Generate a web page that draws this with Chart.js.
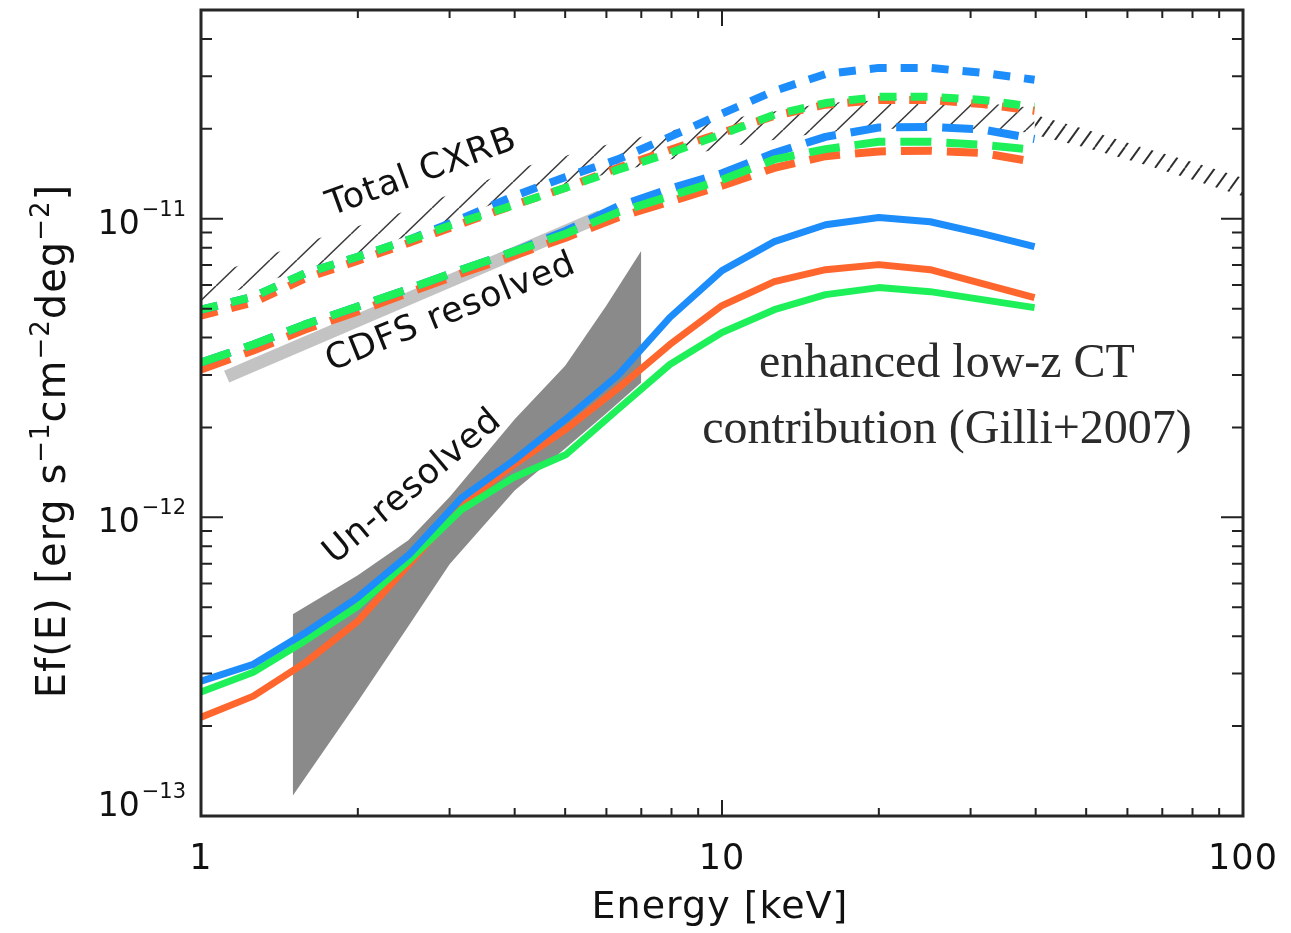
<!DOCTYPE html>
<html>
<head>
<meta charset="utf-8">
<script src="https://cdn.jsdelivr.net/npm/chart.js@4.4.1/dist/chart.umd.min.js"></script>
<style>
  html, body { margin: 0; padding: 0; background: #ffffff; }
  #wrap { width: 1291px; height: 933px; }
</style>
</head>
<body>
<div id="wrap"><canvas id="c" width="1291" height="933"></canvas></div>
<script>
// ---- energy grid of the model curves (keV) ----
const energy = [1, 1.26, 1.58, 2.0, 2.51, 3.16, 3.98, 5.01, 6.31, 7.94, 10.0, 12.6, 15.8, 20.0, 25.1, 31.6, 39.8];

// ---- model totals (short dashes), erg s^-1 cm^-2 deg^-2 ----
const totalBlue   = [4.96e-12, 5.48e-12, 6.55e-12, 7.46e-12, 8.51e-12, 1.00e-11, 1.19e-11, 1.38e-11, 1.58e-11, 1.88e-11, 2.25e-11, 2.68e-11, 3.05e-11, 3.20e-11, 3.20e-11, 3.08e-11, 2.92e-11];
const totalGreen  = [4.96e-12, 5.48e-12, 6.55e-12, 7.46e-12, 8.51e-12, 9.77e-12, 1.11e-11, 1.27e-11, 1.46e-11, 1.66e-11, 1.92e-11, 2.23e-11, 2.44e-11, 2.56e-11, 2.56e-11, 2.50e-11, 2.37e-11];
const totalOrange = [4.74e-12, 5.24e-12, 6.30e-12, 7.24e-12, 8.31e-12, 9.62e-12, 1.11e-11, 1.27e-11, 1.48e-11, 1.70e-11, 1.94e-11, 2.21e-11, 2.41e-11, 2.50e-11, 2.50e-11, 2.42e-11, 2.30e-11];

// ---- resolved part (long dashes) ----
const resolvedBlue   = [3.30e-12, 3.79e-12, 4.42e-12, 5.08e-12, 5.83e-12, 6.75e-12, 7.76e-12, 9.10e-12, 1.10e-11, 1.26e-11, 1.42e-11, 1.66e-11, 1.88e-11, 2.02e-11, 2.03e-11, 1.99e-11, 1.85e-11];
const resolvedGreen  = [3.30e-12, 3.79e-12, 4.42e-12, 5.08e-12, 5.83e-12, 6.75e-12, 7.76e-12, 8.91e-12, 1.05e-11, 1.19e-11, 1.35e-11, 1.58e-11, 1.71e-11, 1.81e-11, 1.81e-11, 1.77e-11, 1.70e-11];
const resolvedOrange = [3.13e-12, 3.62e-12, 4.25e-12, 4.89e-12, 5.66e-12, 6.55e-12, 7.52e-12, 8.64e-12, 1.01e-11, 1.14e-11, 1.29e-11, 1.48e-11, 1.62e-11, 1.68e-11, 1.69e-11, 1.66e-11, 1.55e-11];

// ---- un-resolved part (solid) ----
const unresolvedBlue   = [2.83e-13, 3.22e-13, 4.09e-13, 5.40e-13, 7.52e-13, 1.16e-12, 1.55e-12, 2.13e-12, 2.99e-12, 4.67e-12, 6.70e-12, 8.38e-12, 9.55e-12, 1.01e-11, 9.77e-12, 8.91e-12, 8.06e-12];
const unresolvedGreen  = [2.60e-13, 3.03e-13, 3.85e-13, 5.04e-13, 7.18e-13, 1.06e-12, 1.36e-12, 1.62e-12, 2.30e-12, 3.25e-12, 4.16e-12, 4.96e-12, 5.57e-12, 5.88e-12, 5.70e-12, 5.36e-12, 5.04e-12];
const unresolvedOrange = [2.14e-13, 2.52e-13, 3.25e-13, 4.49e-13, 6.97e-13, 1.10e-12, 1.50e-12, 1.97e-12, 2.70e-12, 3.79e-12, 5.12e-12, 6.16e-12, 6.75e-12, 7.02e-12, 6.75e-12, 6.06e-12, 5.44e-12];

// ---- total CXRB band (two hatched pieces) ----
const cxrbEnergy = [1, 1.58, 2.51, 3.98, 6.31, 10.0, 15.8, 25.1, 39.8];
const cxrbUpper  = [6.30e-12, 8.31e-12, 1.07e-11, 1.46e-11, 1.81e-11, 2.14e-11, 2.44e-11, 2.54e-11, 2.35e-11];
const cxrbLower  = [5.28e-12, 6.75e-12, 8.77e-12, 1.19e-11, 1.44e-11, 1.73e-11, 1.95e-11, 2.03e-11, 1.94e-11];
const cxrbHardEnergy = [39.8, 50, 63, 80, 100];
const cxrbHardUpper  = [2.23e-11, 1.99e-11, 1.75e-11, 1.55e-11, 1.37e-11];
const cxrbHardLower  = [1.91e-11, 1.73e-11, 1.54e-11, 1.35e-11, 1.19e-11];

// ---- CDFS resolved fraction (light grey bar) ----
const cdfsEnergy = [1.12, 5.85];
const cdfsFlux   = [2.96e-12, 1.02e-11];

// ---- un-resolved background region (dark grey) ----
const unresEnergy = [1.5, 2, 2.5, 3, 4, 5, 6, 7];
const unresUpper  = [4.74e-13, 6.40e-13, 8.38e-13, 1.17e-12, 2.13e-12, 3.22e-12, 5.12e-12, 7.82e-12];
const unresLower  = [1.17e-13, 2.42e-13, 4.32e-13, 6.97e-13, 1.23e-12, 1.70e-12, 2.23e-12, 2.83e-12];

// ---- axes ----
const xRange = [1, 100];
const yRange = [1e-13, 5e-11];
const xTickLabels = [1, 10, 100];
const yTickExponents = [-13, -12, -11];

const BLUE = '#1c8dfa', GREEN = '#1ef05a', ORANGE = '#ff662e';
const SHORT_DASH = [17, 14], LONG_DASH = [31, 15];

const pts = (xs, ys) => xs.map((x, i) => ({ x, y: ys[i] }));

function curve(data, color, width, dash, order) {
  return {
    data, borderColor: color, borderWidth: width, borderDash: dash,
    borderCapStyle: 'butt', borderJoinStyle: 'round',
    pointRadius: 0, tension: 0, fill: false, order
  };
}
function edge(data, fill, bg, order) {
  return {
    data, borderColor: 'rgba(0,0,0,0)', borderWidth: 0, pointRadius: 0,
    tension: 0, fill, backgroundColor: bg, order
  };
}

// diagonal hatching for the CXRB band
function hatch(w, h, color, lw) {
  const c = document.createElement('canvas');
  c.width = w; c.height = h;
  const g = c.getContext('2d');
  g.strokeStyle = color; g.lineWidth = lw;
  for (let k = -1; k <= 1; k++) {
    g.beginPath();
    g.moveTo(k * w, h);
    g.lineTo(k * w + w, 0);
    g.stroke();
  }
  return g.createPattern(c, 'repeat');
}
const hatchWide = hatch(27, 26, '#3a3a3a', 1.5);
const hatchDense = hatch(15, 21, '#2e2e2e', 1.9);

const datasets = [
  curve(pts(energy, unresolvedBlue), BLUE, 7, [], 1),
  curve(pts(energy, unresolvedGreen), GREEN, 7, [], 2),
  curve(pts(energy, unresolvedOrange), ORANGE, 7, [], 3),
  curve(pts(energy, totalGreen), GREEN, 8, SHORT_DASH, 4),
  curve(pts(energy, resolvedGreen), GREEN, 8, LONG_DASH, 4),
  curve(pts(energy, totalBlue), BLUE, 8, SHORT_DASH, 5),
  curve(pts(energy, resolvedBlue), BLUE, 8, LONG_DASH, 5),
  curve(pts(energy, totalOrange), ORANGE, 8, SHORT_DASH, 6),
  curve(pts(energy, resolvedOrange), ORANGE, 8, LONG_DASH, 6),
  curve(pts(cdfsEnergy, cdfsFlux), '#c3c3c3', 13, [], 10),
  edge(pts(cxrbEnergy, cxrbUpper), '+1', hatchWide, 20),
  edge(pts(cxrbEnergy, cxrbLower), false, 'rgba(0,0,0,0)', 20),
  edge(pts(cxrbHardEnergy, cxrbHardUpper), '+1', hatchDense, 20),
  edge(pts(cxrbHardEnergy, cxrbHardLower), false, 'rgba(0,0,0,0)', 20),
  edge(pts(unresEnergy, unresUpper), '+1', '#8a8a8a', 20),
  edge(pts(unresEnergy, unresLower), false, 'rgba(0,0,0,0)', 20)
];

function logTicks(min, max) {
  const out = [];
  for (let e = Math.floor(Math.log10(min) + 1e-9); Math.pow(10, e) <= max * 1.0001; e++) {
    for (let m = 1; m <= 9; m++) {
      const v = m * Math.pow(10, e);
      if (v >= min * 0.9999 && v <= max * 1.0001) out.push({ v, major: m === 1 });
    }
  }
  return out;
}

const SANS = '"DejaVu Sans", "Liberation Sans", sans-serif';

function rotatedText(ctx, text, cx, cy, deg, size) {
  ctx.save();
  ctx.translate(cx, cy);
  ctx.rotate(deg * Math.PI / 180);
  ctx.font = size + 'px ' + SANS;
  ctx.letterSpacing = '1px';
  ctx.textAlign = 'center';
  ctx.textBaseline = 'middle';
  ctx.fillStyle = '#111';
  ctx.fillText(text, 0, 0);
  ctx.restore();
}

const decorations = {
  id: 'decorations',
  afterDatasetsDraw(chart) {
    const { ctx, chartArea: a, scales: { x, y } } = chart;
    ctx.save();

    // inward tick marks on all four sides
    ctx.strokeStyle = '#222';
    ctx.lineWidth = 2;
    ctx.beginPath();
    for (const t of logTicks(xRange[0], xRange[1])) {
      const px = x.getPixelForValue(t.v);
      const len = t.major ? 16 : 8;
      ctx.moveTo(px, a.bottom); ctx.lineTo(px, a.bottom - len);
      ctx.moveTo(px, a.top); ctx.lineTo(px, a.top + len);
    }
    for (const t of logTicks(yRange[0], yRange[1])) {
      const py = y.getPixelForValue(t.v);
      const len = t.major ? 22 : 11;
      ctx.moveTo(a.left, py); ctx.lineTo(a.left + len, py);
      ctx.moveTo(a.right, py); ctx.lineTo(a.right - len, py);
    }
    ctx.stroke();

    // frame
    ctx.lineWidth = 3;
    ctx.strokeStyle = '#262626';
    ctx.strokeRect(a.left, a.top, a.right - a.left, a.bottom - a.top);

    // x tick labels
    ctx.fillStyle = '#111';
    ctx.font = '35px ' + SANS;
    ctx.letterSpacing = '1px';
    ctx.textAlign = 'center';
    ctx.textBaseline = 'middle';
    for (const v of xTickLabels) ctx.fillText(String(v), x.getPixelForValue(v), 860);

    // y tick labels 10^n
    for (const e of yTickExponents) {
      const py = y.getPixelForValue(Math.pow(10, e));
      const base = Math.min(py + 15, a.bottom);
      const sup = '\u2212' + String(-e);
      ctx.textBaseline = 'alphabetic';
      ctx.textAlign = 'right';
      ctx.font = '21px ' + SANS;
      ctx.letterSpacing = '0px';
      const right = 186;
      ctx.fillText(sup, right, base - 18);
      const sw = ctx.measureText(sup).width;
      ctx.font = '33px ' + SANS;
      ctx.fillText('10', right - sw - 2, base);
    }

    // axis titles
    ctx.font = '38px ' + SANS;
    ctx.letterSpacing = '1px';
    ctx.textAlign = 'center';
    ctx.textBaseline = 'alphabetic';
    ctx.fillText('Energy [keV]', 720, 918);

    const parts = [
      ['Ef(E) [erg s', false], ['\u22121', true], ['cm', false],
      ['\u22122', true], ['deg', false], ['\u22122', true], [']', false]
    ];
    const fMain = '40px ' + SANS, fSup = '26px ' + SANS;
    let total = 0;
    for (const [t, s] of parts) { ctx.font = s ? fSup : fMain; total += ctx.measureText(t).width; }
    ctx.save();
    ctx.translate(65, 441);
    ctx.rotate(-Math.PI / 2);
    ctx.textAlign = 'left';
    let cx = -total / 2;
    for (const [t, s] of parts) {
      ctx.font = s ? fSup : fMain;
      ctx.fillText(t, cx, s ? -16 : 0);
      cx += ctx.measureText(t).width;
    }
    ctx.restore();

    // in-plot labels
    rotatedText(ctx, 'Total CXRB', 422, 173, -20, 35);
    rotatedText(ctx, 'CDFS resolved', 451, 313, -22, 35);
    rotatedText(ctx, 'Un-resolved', 413, 487, -40, 35);

    ctx.letterSpacing = '0px';
    ctx.font = '48px "Liberation Serif", "DejaVu Serif", serif';
    ctx.fillStyle = '#2b2b2b';
    ctx.textAlign = 'center';
    ctx.textBaseline = 'alphabetic';
    ctx.fillText('enhanced low-z CT', 947, 377);
    ctx.fillText('contribution (Gilli+2007)', 947, 443);

    ctx.restore();
  }
};

new Chart(document.getElementById('c'), {
  type: 'line',
  data: { datasets },
  options: {
    responsive: false,
    animation: false,
    events: [],
    layout: { padding: { left: 201, right: 48, top: 10, bottom: 117 } },
    scales: {
      x: { type: 'logarithmic', min: xRange[0], max: xRange[1], display: false },
      y: { type: 'logarithmic', min: yRange[0], max: yRange[1], display: false }
    },
    plugins: {
      legend: { display: false },
      tooltip: { enabled: false },
      filler: { propagate: false }
    }
  },
  plugins: [decorations]
});
</script>
</body>
</html>
